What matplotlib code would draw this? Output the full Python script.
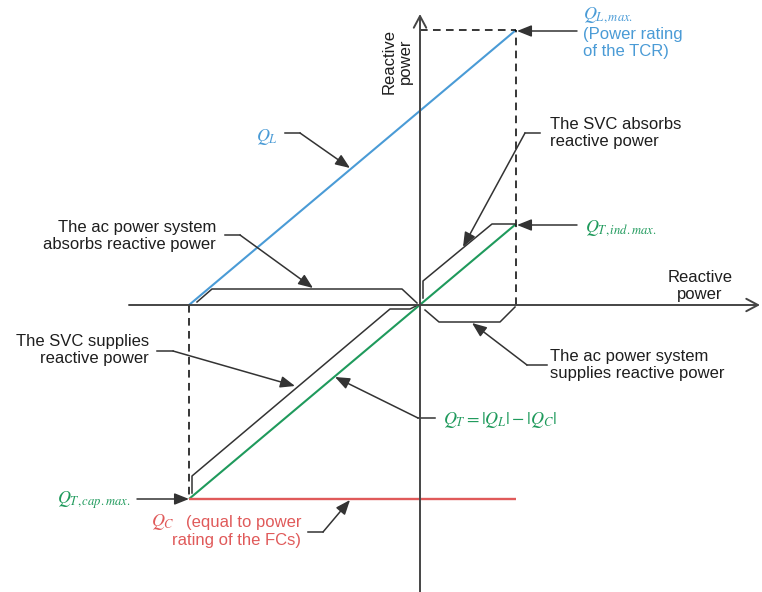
import matplotlib.pyplot as plt

plt.rcParams['font.family'] = ['Liberation Sans', 'DejaVu Sans']
plt.rcParams['mathtext.fontset'] = 'stix'

# operating range of the SVC (capacitive limit, inductive limit)
q_range = [-231, 96]
# TCR reactive power over that range
q_l = [0, 275]
# fixed capacitor rating (constant)
q_c = [194, 194]
# net SVC output
q_t = [l - c for l, c in zip(q_l, q_c)]

BLUE = '#4a9bd6'
GREEN = '#1f9a5c'
RED = '#e05a5a'
AXIS = '#454545'
INK = '#333333'
TEXT = '#1e1e1e'

fig = plt.figure(figsize=(7.62, 5.92), dpi=100)
ax = fig.add_axes([0, 0, 1, 1])
ax.set_xlim(-420, 342)
ax.set_ylim(-287, 305)
ax.axis('off')

axis_arrow = dict(arrowstyle='->,head_length=0.6,head_width=0.32', lw=1.4,
                  color=AXIS, mutation_scale=14, shrinkA=0, shrinkB=0)
ax.annotate('', xy=(340, 0), xytext=(-291, 0), arrowprops=axis_arrow)
ax.annotate('', xy=(0, 291), xytext=(0, -290), arrowprops=axis_arrow)

# characteristics
ax.plot(q_range, q_l, color=BLUE, lw=1.5, solid_capstyle='butt')
ax.plot(q_range, q_t, color=GREEN, lw=1.5, solid_capstyle='butt')
ax.plot(q_range, [-c for c in q_c], color=RED, lw=1.7, solid_capstyle='butt')

# limit guides
dash = dict(color='black', lw=1.1, ls=(0, (5, 3.5)))
ax.plot([q_range[1], q_range[1]], [0, q_l[1]], **dash)
ax.plot([0, q_range[1]], [q_l[1], q_l[1]], **dash)
ax.plot([q_range[0], q_range[0]], [0, -q_c[0]], **dash)

# brackets marking each operating region
brackets = [
    [(-223, 3), (-208, 16), (-18, 16), (-3, 2)],
    [(3, 7), (3, 24), (72, 81), (95, 81)],
    [(5, -5), (19, -17), (80, -17), (95, -2)],
    [(-228, -188), (-228, -171), (-30, -4), (-10, -4), (-4, -1)],
]
for pts in brackets:
    xs, ys = zip(*pts)
    ax.plot(xs, ys, color=INK, lw=1.1)

# leader lines with arrow heads
leaders = [
    [(-195, 70), (-180, 70), (-107, 17)],
    [(-135, 172), (-120, 172), (-70, 137)],
    [(157, 274), (97, 274)],
    [(120, 172), (105, 172), (43, 58)],
    [(157, 80), (97, 80)],
    [(127, -60), (107, -60), (52, -18)],
    [(-263, -46), (-247, -46), (-125, -81)],
    [(15, -113), (-2, -113), (-85, -72)],
    [(-283, -194), (-231, -194)],
    [(-112, -227), (-97, -227), (-70, -195)],
]
head = dict(arrowstyle='-|>,head_length=0.55,head_width=0.22', lw=1.1,
            color=INK, mutation_scale=16, shrinkA=0, shrinkB=0)
for pts in leaders:
    if len(pts) > 2:
        xs, ys = zip(*pts[:-1])
        ax.plot(xs, ys, color=INK, lw=1.1)
    ax.annotate('', xy=pts[-1], xytext=pts[-2], arrowprops=head)

fs = 12
ls = 1.1
common = dict(fontsize=fs, linespacing=ls, color=TEXT)
ax.text(-204, 69, 'The ac power system\nabsorbs reactive power',
        ha='right', va='center', multialignment='right', **common)
ax.text(-271, -45, 'The SVC supplies\nreactive power',
        ha='right', va='center', multialignment='right', **common)
ax.text(130, 172, 'The SVC absorbs\nreactive power',
        ha='left', va='center', multialignment='left', **common)
ax.text(130, -60, 'The ac power system\nsupplies reactive power',
        ha='left', va='center', multialignment='left', **common)
ax.text(280, 19, 'Reactive\npower', ha='center', va='center',
        multialignment='center', **common)
ax.text(-23, 244, 'Reactive\npower', ha='center', va='center',
        multialignment='center', rotation=90, **common)

# math labels
mfs = 13
ax.text(-142, 168, r'$Q_L$', color=BLUE, fontsize=mfs, ha='right', va='center')
ax.text(163, 290, r'$Q_{L,max.}$', color=BLUE, fontsize=mfs, ha='left', va='center')
ax.text(163, 262, '(Power rating\nof the TCR)', color=BLUE, fontsize=fs,
        linespacing=ls, ha='left', va='center')
ax.text(165, 77, r'$Q_{T,ind.max.}$', color=GREEN, fontsize=mfs, ha='left', va='center')
ax.text(23, -115, r'$Q_T=|Q_L|-|Q_C|$', color=GREEN, fontsize=mfs, ha='left', va='center')
ax.text(-290, -195, r'$Q_{T,cap.max.}$', color=GREEN, fontsize=mfs, ha='right', va='center')
ax.text(-245, -217, r'$Q_C$', color=RED, fontsize=mfs, ha='right', va='center')
ax.text(-119, -218, '(equal to power', color=RED, fontsize=fs,
        ha='right', va='center')
ax.text(-119, -235, 'rating of the FCs)', color=RED, fontsize=fs,
        ha='right', va='center')

fig.savefig('out.png', dpi=100)
